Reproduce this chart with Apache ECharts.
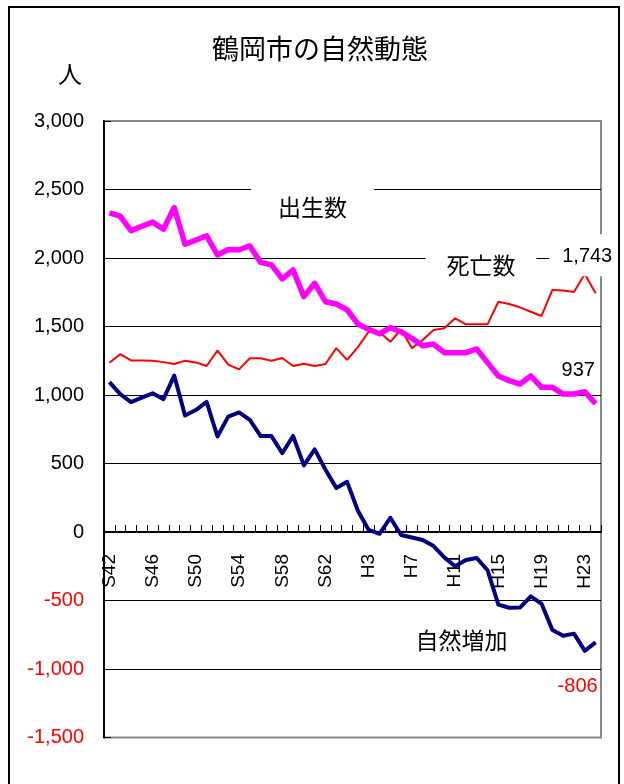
<!DOCTYPE html>
<html>
<head>
<meta charset="utf-8">
<script src="https://cdn.jsdelivr.net/npm/echarts@6/dist/echarts.min.js"></script>
<style>
  html, body { margin: 0; padding: 0; background: #fff; }
  #chart { width: 624px; height: 784px; }
</style>
</head>
<body>
<div id="chart"></div>
<script>
// 年次（昭和42年〜平成24年）
const years = [
  'S42','S43','S44','S45','S46','S47','S48','S49','S50','S51','S52',
  'S53','S54','S55','S56','S57','S58','S59','S60','S61','S62','S63',
  'H1','H2','H3','H4','H5','H6','H7','H8','H9','H10','H11','H12',
  'H13','H14','H15','H16','H17','H18','H19','H20','H21','H22','H23','H24'
];

// 出生数（人）
const births = [
  2330, 2305, 2200, 2232, 2262, 2210, 2368, 2100, 2130, 2162,
  2022, 2062, 2060, 2088, 1968, 1950, 1848, 1913, 1718, 1815,
  1681, 1664, 1622, 1518, 1480, 1447, 1492, 1460, 1414, 1360,
  1372, 1309, 1309, 1309, 1336, 1236, 1139, 1105, 1080, 1139,
  1056, 1056, 1007, 1007, 1024, 937
];

// 死亡数（人）
const deaths = [
  1236, 1298, 1252, 1251, 1250, 1240, 1226, 1250, 1238, 1212,
  1325, 1222, 1187, 1268, 1268, 1250, 1270, 1212, 1228, 1212,
  1226, 1342, 1256, 1350, 1462, 1460, 1388, 1478, 1342, 1402,
  1475, 1487, 1560, 1516, 1516, 1516, 1681, 1664, 1640, 1608,
  1577, 1767, 1762, 1752, 1883, 1743
];

// 自然増加（人）
const naturalIncrease = [
  1094, 1007, 948, 981, 1012, 970, 1142, 850, 890, 950,
  697, 842, 873, 818, 700, 700, 575, 701, 486, 603,
  455, 322, 366, 155, 15, -13, 104, -22, -40, -58,
  -103, -185, -250, -204, -190, -279, -530, -553, -552, -470,
  -524, -715, -757, -742, -868, -806
];

// 縦軸の目盛り
const yTicks = { min: -1500, max: 3000, step: 500 };

const NUM_FONT = '"Liberation Sans", Arial, sans-serif';
const JP_FONT = '"Noto Sans CJK JP", "Noto Sans", sans-serif';

const fmt = v => Number(v).toLocaleString('en-US');

// プロット領域
const plot = { left: 104, top: 121, right: 23, bottom: 46.5, width: 497, height: 616.5 };
// 横軸を0の位置へ移すためのずらし量
const zeroShift = plot.height * (0 - yTicks.min) / (yTicks.max - yTicks.min);

// 最終年の値にだけラベルを付ける
function withEndLabel(values, label) {
  const last = values.length - 1;
  return values.map((v, i) => i === last ? { value: v, label: Object.assign({ show: true }, label) } : v);
}

const splitColors = [];
for (let v = yTicks.min; v <= yTicks.max; v += yTicks.step) {
  splitColors.push(v === yTicks.min || v === yTicks.max ? '#888888' : '#000000');
}

const chart = echarts.init(document.getElementById('chart'), null, { renderer: 'canvas' });

chart.setOption({
  animation: false,
  backgroundColor: '#ffffff',
  title: {
    text: '鶴岡市の自然動態',
    left: 207,
    top: 30,
    textStyle: { fontFamily: JP_FONT, fontSize: 27, fontWeight: 'normal', color: '#000' }
  },
  grid: {
    left: plot.left, top: plot.top, right: plot.right, bottom: plot.bottom,
    containLabel: false,
    outerBoundsMode: 'none',
    show: true, borderColor: '#888888', borderWidth: 2, backgroundColor: '#ffffff'
  },
  xAxis: {
    type: 'category',
    data: years,
    boundaryGap: true,
    position: 'bottom',
    offset: -zeroShift,
    axisLine: { show: true, onZero: false, lineStyle: { color: '#000', width: 2 } },
    axisTick: { show: true, inside: true, interval: 0, alignWithLabel: false, length: 7, lineStyle: { color: '#000', width: 1 } },
    axisLabel: {
      show: true, interval: 3, rotate: 90, margin: 22,
      fontFamily: NUM_FONT, fontSize: 19, color: '#000'
    },
    splitLine: { show: false }
  },
  yAxis: {
    type: 'value',
    min: yTicks.min, max: yTicks.max, interval: yTicks.step,
    axisLine: { show: true, lineStyle: { color: '#000', width: 2 } },
    axisTick: { show: true, inside: true, length: 7, lineStyle: { color: '#000', width: 1 } },
    axisLabel: {
      margin: 20,
      fontFamily: NUM_FONT, fontSize: 20,
      formatter: v => fmt(v),
      color: v => (Number(v) < 0 ? '#ff0000' : '#000000')
    },
    splitLine: { show: true, lineStyle: { color: splitColors, width: 1 } }
  },
  series: [
    {
      name: '死亡数',
      type: 'line',
      data: withEndLabel(deaths, {
        formatter: p => fmt(p.value),
        position: [-46.4, -59],
        fontFamily: NUM_FONT, fontSize: 20, lineHeight: 20, color: '#000',
        backgroundColor: '#ffffff',
        padding: [12, 4, 10, 13]
      }),
      showSymbol: true, showAllSymbol: true, symbol: 'circle', symbolSize: 0,
      lineStyle: { color: '#ff0000', width: 2 },
      itemStyle: { color: '#ff0000' },
      z: 3
    },
    {
      name: '出生数',
      type: 'line',
      data: withEndLabel(births, {
        formatter: p => fmt(p.value),
        position: [-34, -43],
        fontFamily: NUM_FONT, fontSize: 20, lineHeight: 20, color: '#000'
      }),
      showSymbol: true, showAllSymbol: true, symbol: 'circle', symbolSize: 0,
      lineStyle: { color: '#ff00ff', width: 5.5, join: 'round' },
      itemStyle: { color: '#ff00ff' },
      z: 4
    },
    {
      name: '自然増加',
      type: 'line',
      data: withEndLabel(naturalIncrease, {
        formatter: p => fmt(p.value),
        position: [-38, 34],
        fontFamily: NUM_FONT, fontSize: 20, lineHeight: 20, color: '#ff0000'
      }),
      showSymbol: true, showAllSymbol: true, symbol: 'circle', symbolSize: 0,
      lineStyle: { color: '#000080', width: 4, join: 'round' },
      itemStyle: { color: '#000080' },
      z: 5
    }
  ],
  graphic: [
    // 外枠
    {
      type: 'rect', z: 200, silent: true,
      shape: { x: 9, y: 7, width: 610, height: 800 },
      style: { fill: 'none', stroke: '#000', lineWidth: 2 }
    },
    // 単位
    {
      type: 'text', z: 100, x: 70, y: 74,
      style: { text: '人', font: '24px ' + JP_FONT, fill: '#000', align: 'center', verticalAlign: 'middle' }
    },
    // 系列名
    {
      type: 'text', z: 100, x: 312.5, y: 207,
      style: {
        text: '出生数', font: '23px ' + JP_FONT, fill: '#000',
        align: 'center', verticalAlign: 'middle',
        backgroundColor: '#ffffff', padding: [12, 27, 12, 27]
      }
    },
    {
      type: 'text', z: 100, x: 481, y: 265,
      style: {
        text: '死亡数', font: '23px ' + JP_FONT, fill: '#000',
        align: 'center', verticalAlign: 'middle',
        backgroundColor: '#ffffff', padding: [12, 21, 12, 21]
      }
    },
    {
      type: 'text', z: 100, x: 461.5, y: 640,
      style: { text: '自然増加', font: '23px ' + JP_FONT, fill: '#000', align: 'center', verticalAlign: 'middle' }
    }
  ]
});
</script>
</body>
</html>
